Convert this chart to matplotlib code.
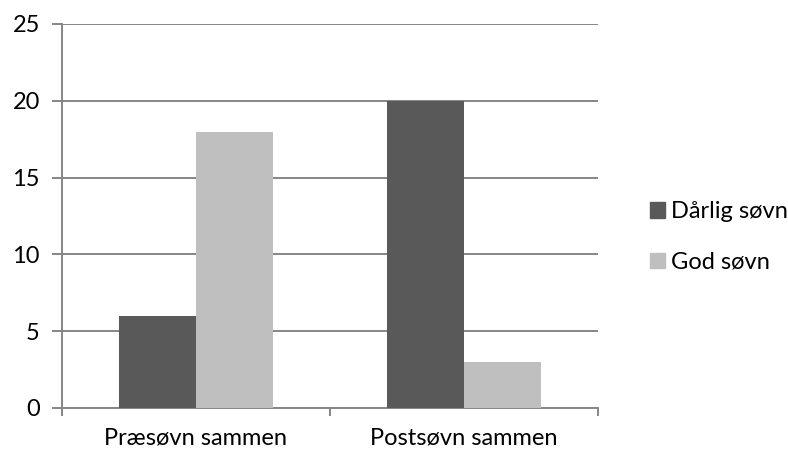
import numpy as np
import matplotlib.pyplot as plt
from matplotlib.patches import Patch

plt.rcParams['font.family'] = ['Lato', 'DejaVu Sans']

categories = ["Præsøvn sammen", "Postsøvn sammen"]
series_names = ["Dårlig søvn", "God søvn"]
darlig = [6, 20]
god = [18, 3]
colors = ["#595959", "#bfbfbf"]

fig = plt.figure(figsize=(7.88, 4.51), dpi=100)
ax = fig.add_axes([62 / 788, 1 - 408 / 451, 536 / 788, 384 / 451])

x = np.arange(len(categories))
w = 0.2857
ax.bar(x - w / 2, darlig, w, color=colors[0], zorder=3)
ax.bar(x + w / 2, god, w, color=colors[1], zorder=3)

ax.set_xlim(-0.5, 1.5)
ax.set_ylim(0, 25)
ax.set_yticks(range(0, 26, 5))
ax.yaxis.grid(True, color="#868686", linewidth=1.4, zorder=0)

for side in ["top", "right"]:
    ax.spines[side].set_visible(False)
for side in ["left", "bottom"]:
    ax.spines[side].set_color("#868686")
    ax.spines[side].set_linewidth(1.4)

ax.set_xticks([-0.5, 0.5, 1.5])
ax.set_xticklabels([])
ax.set_xticks(x, minor=True)
ax.set_xticklabels(categories, minor=True, fontsize=17)
ax.tick_params(axis="x", which="major", length=6, width=1.4, color="#868686")
ax.tick_params(axis="x", which="minor", length=0, pad=14)
ax.tick_params(axis="y", length=7, width=1.4, color="#868686", labelsize=17, pad=9)

handles = [Patch(color=c) for c in colors]
ax.legend(handles, series_names, loc="center left", bbox_to_anchor=(1.08, 0.445),
          frameon=False, fontsize=17, handlelength=0.64, handleheight=0.64,
          handletextpad=0.25, labelspacing=1.25, borderaxespad=0)

fig.savefig("out.png", dpi=100)
